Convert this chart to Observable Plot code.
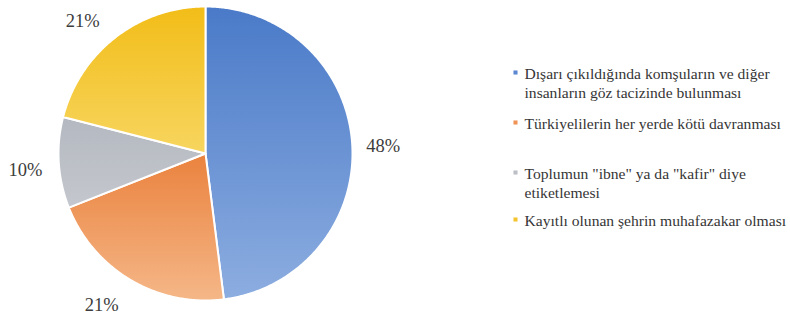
<!DOCTYPE html>
<html>
<head>
<meta charset="utf-8">
<script src="https://cdn.jsdelivr.net/npm/d3@7"></script>
<script src="https://cdn.jsdelivr.net/npm/@observablehq/plot@0.6"></script>
<style>
  html, body { margin: 0; padding: 0; background: #ffffff; }
  #wrap { position: relative; width: 790px; height: 316px; overflow: hidden; }
  #chart { position: absolute; left: 0; top: 0; }
  #legend { position: absolute; left: 510px; top: 0; }
</style>
</head>
<body>
<div id="wrap"><div id="chart"></div><div id="legend"></div></div>
<script>
// ---- data ----
const categories = [
  "Dışarı çıkıldığında komşuların ve diğer insanların göz tacizinde bulunması",
  "Türkiyelilerin her yerde kötü davranması",
  "Toplumun \"ibne\" ya da \"kafir\" diye etiketlemesi",
  "Kayıtlı olunan şehrin muhafazakar olması"
];
const legendLines = [
  ["Dışarı çıkıldığında komşuların ve diğer", "insanların göz tacizinde bulunması"],
  ["Türkiyelilerin her yerde kötü davranması"],
  ["Toplumun \"ibne\" ya da \"kafir\" diye", "etiketlemesi"],
  ["Kayıtlı olunan şehrin muhafazakar olması"]
];
const values = [48, 21, 10, 21];
const labels = ["48%", "21%", "10%", "21%"];

// ---- styles / layout (not data) ----
const baseColors = ["#5b88d0", "#ef9356", "#bcbfc6", "#f4c430"];
const gradTop = ["#4a7ac8", "#ea823e", "#b4b8c0", "#f2bd18"];
const gradBottom = ["#8cade0", "#f5b788", "#c4c7cd", "#f7d55f"];
const labelAngleNudge = [1.3, 3.8, -1.8, -5];   // degrees
const labelRadius = [1.21, 1.25, 1.23, 1.23];
const legTops = [73, 123, 173, 220];              // first-line centre of each legend item
const legLineH = 19;
const serif = "Liberation Serif, Times New Roman, serif";

// ---- geometry from data ----
const pie = d3.pie().sort(null).value(d => d)(values);
const polys = [];
pie.forEach((a, i) => {
  polys.push({k: i, x: 0, y: 0});
  const n = Math.max(2, Math.ceil((a.endAngle - a.startAngle) / (Math.PI / 360)));
  for (let j = 0; j <= n; j++) {
    const t = a.startAngle + (a.endAngle - a.startAngle) * j / n;
    polys.push({k: i, x: Math.sin(t), y: -Math.cos(t)});
  }
  polys.push({k: i, x: 0, y: 0});
});
const labelPts = pie.map((a, i) => {
  const m = (a.startAngle + a.endAngle) / 2 + labelAngleNudge[i] * Math.PI / 180;
  const r = labelRadius[i];
  return {x: r * Math.sin(m), y: -r * Math.cos(m), label: labels[i]};
});

const cx = 205, cy = 153, R = 147;
const plot = Plot.plot({
  width: 500,
  height: 316,
  margin: 0,
  x: {domain: [-1, 1], range: [cx - R, cx + R], axis: null},
  y: {domain: [-1, 1], range: [cy - R, cy + R], axis: null},
  color: {type: "identity"},
  style: {background: "transparent"},
  marks: [
    Plot.line(polys, {x: "x", y: "y", z: "k", fill: d => `url(#pg${d.k})`, stroke: "white", strokeWidth: 2, strokeLinejoin: "round", curve: "linear"}),
    Plot.text(labelPts, {x: "x", y: "y", text: "label", fontFamily: serif, fontSize: 18.5, fill: "#3c3c3c", textAnchor: "middle"})
  ]
});
const ns = "http://www.w3.org/2000/svg";
const defs = document.createElementNS(ns, "defs");
gradTop.forEach((c, i) => {
  const g = document.createElementNS(ns, "linearGradient");
  g.setAttribute("id", "pg" + i);
  g.setAttribute("x1", "0"); g.setAttribute("y1", "0");
  g.setAttribute("x2", "0"); g.setAttribute("y2", "1");
  const s1 = document.createElementNS(ns, "stop");
  s1.setAttribute("offset", "0"); s1.setAttribute("stop-color", c);
  const s2 = document.createElementNS(ns, "stop");
  s2.setAttribute("offset", "1"); s2.setAttribute("stop-color", gradBottom[i]);
  g.appendChild(s1); g.appendChild(s2); defs.appendChild(g);
});
plot.insertBefore(defs, plot.firstChild);
document.getElementById("chart").appendChild(plot);

// ---- legend (SVG, drawn by Plot) ----
const legRows = [];
const legSw = [];
legendLines.forEach((lines, i) => {
  legSw.push({y: legTops[i] - 1, c: baseColors[i], cat: categories[i]});
  lines.forEach((l, j) => legRows.push({y: legTops[i] + j * legLineH, text: l}));
});
const legend = Plot.plot({
  width: 280,
  height: 316,
  margin: 0,
  x: {type: "identity", axis: null},
  y: {type: "identity", axis: null},
  color: {type: "identity"},
  style: {background: "transparent"},
  marks: [
    Plot.dot(legSw, {x: () => 5, y: "y", fill: "c", symbol: "square", r: 2.3, stroke: null, title: "cat"}),
    Plot.text(legRows, {x: () => 14, y: "y", text: "text", textAnchor: "start", fontFamily: serif, fontSize: 15.6, fill: "#363636"})
  ]
});
document.getElementById("legend").appendChild(legend);
</script>
</body>
</html>
